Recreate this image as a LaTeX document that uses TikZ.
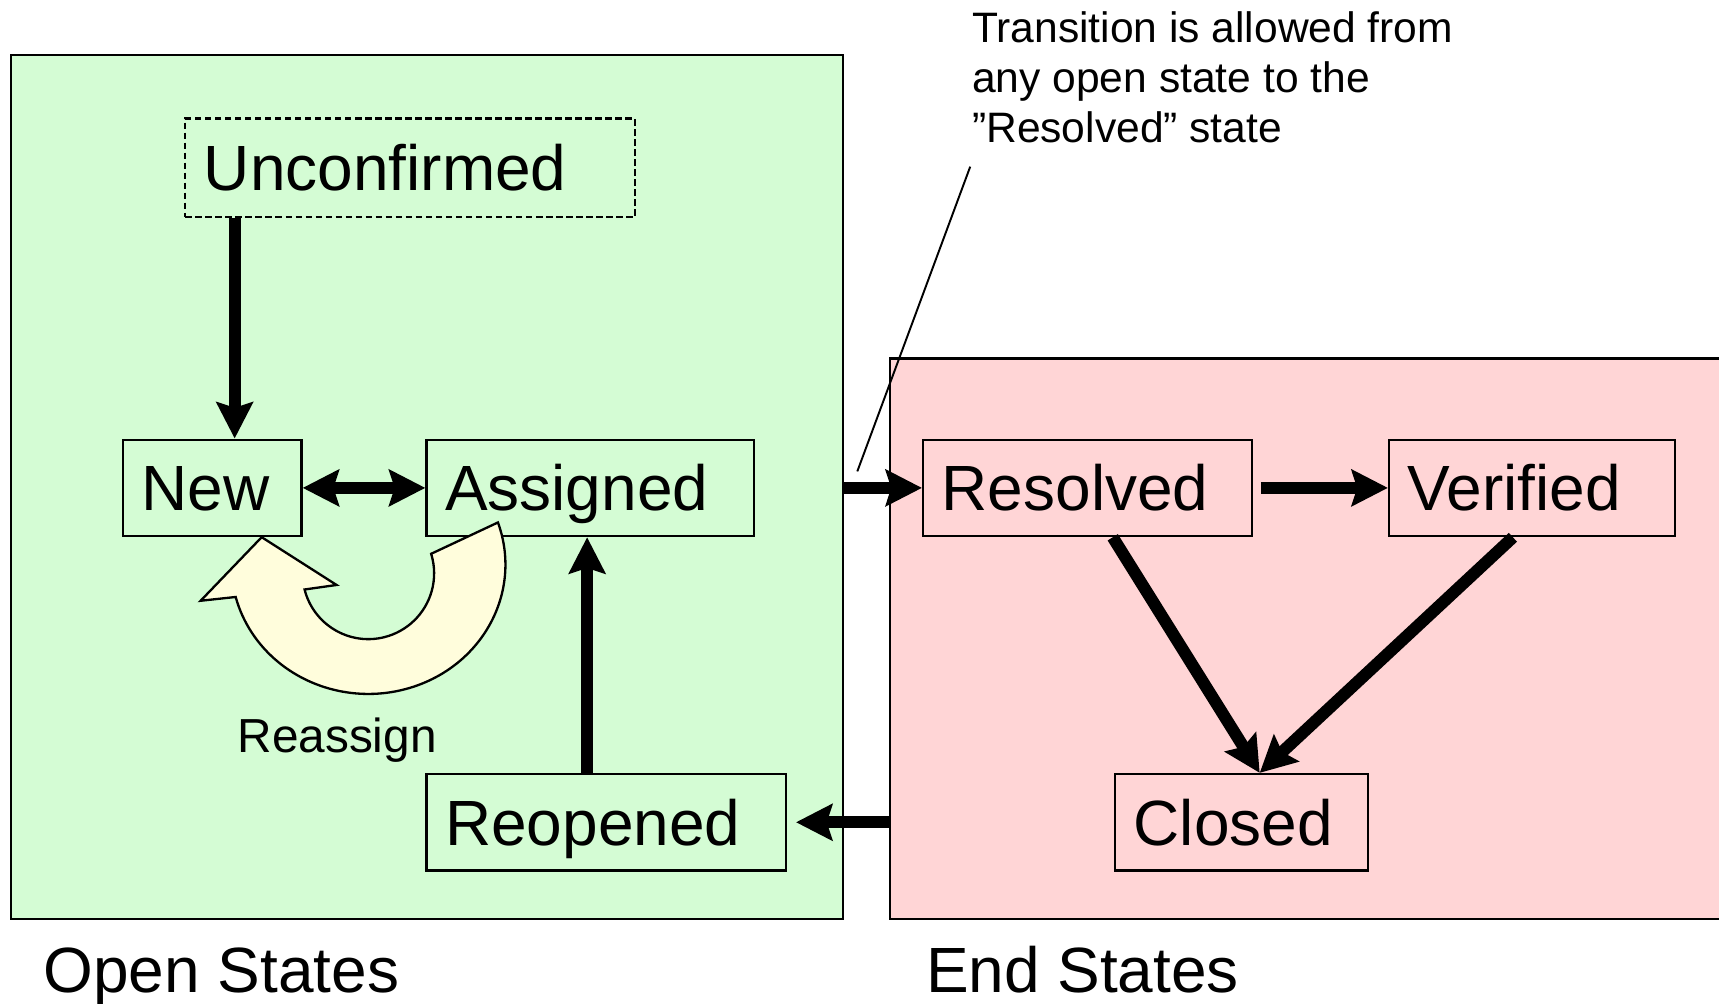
\documentclass[tikz,border=0pt]{standalone}
\usepackage{fontspec}
\setmainfont{Liberation Sans}
\usetikzlibrary{arrows.meta}
\definecolor{opengreen}{HTML}{D4FCD4}
\definecolor{endpink}{HTML}{FFD5D6}
\definecolor{reayellow}{HTML}{FFFDDC}
\begin{document}
\begin{tikzpicture}[x=0.1mm,y=-0.1mm,
  bigfont/.style={font=\fontsize{16.6}{19.9}\selectfont},
  area/.style={draw, line width=0.6pt, rectangle, anchor=north west, inner sep=0pt},
  statebox/.style={draw, line width=0.6pt, rectangle, anchor=north west,
    inner xsep=1.7mm, inner ysep=0pt, minimum height=8.8mm, align=left,
    text height=11.9pt, text depth=0pt, bigfont},
  arr/.style={line width=1.1mm, -{Stealth[length=3.3mm,width=3.3mm,inset=0.5mm]}},
  arrtwo/.style={line width=1.1mm, {Stealth[length=3.3mm,width=3.3mm,inset=0.5mm]}-{Stealth[length=3.3mm,width=3.3mm,inset=0.5mm]}},
]
\useasboundingbox (0,0) rectangle (1568,915);
\clip (0,0) rectangle (1568,915);

% areas
\node[area, fill=opengreen, minimum width=75.9mm, minimum height=78.8mm] (open) at (9,49) {};
\node[area, fill=endpink, minimum width=80mm, minimum height=51.1mm] (endst) at (811,326) {};

% states
\node[statebox, dashed, dash pattern=on 1.7pt off 0.9pt, minimum height=9.0mm, text width=37.6mm] (unc) at (168,107) {Unconfirmed};
\node[statebox, text width=12.9mm] (new) at (111,400) {New};
\node[statebox, text width=26.5mm] (asg) at (388,400) {Assigned};
\node[statebox, text width=29.4mm] (reo) at (388,705) {Reopened};
\node[statebox, text width=26.6mm] (res) at (841,400) {Resolved};
\node[statebox, text width=22.7mm] (ver) at (1266,400) {Verified};
\node[statebox, text width=19.7mm] (clo) at (1016,705) {Closed};

% reassign curved arrow
\coordinate (rO) at (336,515);
\coordinate (rC) at (336,523);
\draw[line width=0.6pt, fill=reayellow, line join=miter]
  ([shift={(19:12.5mm and 11.8mm)}]rO)
  arc[start angle=19, end angle=-165.5, x radius=12.5mm, y radius=11.8mm]
  -- (183,548) -- (238.7,490) -- (307,533.6)
  -- ([shift={(-165.8:6mm)}]rC)
  arc[start angle=-165.8, end angle=17.3, radius=6mm] -- cycle;
\node[anchor=base west, inner sep=0pt, font=\fontsize{12.4}{14.9}\selectfont] (reasg) at (216,686) {Reassign};

% connectors
\coordinate (a1) at ([xshift=2.05mm]new.north);
\draw[arr] (a1 |- unc.south) -- (a1);
\draw[arrtwo] (new.east) -- (asg.west);
\coordinate (a2) at ([xshift=-0.3mm]asg.south);
\draw[arr] (reo.north -| a2) -- (a2);
\draw[arr] (open.east |- res.west) -- (res.west);
\draw[arr] ([xshift=0.7mm]res.east) -- (ver.west);
\coordinate (ctop) at ([xshift=1.65mm]clo.north);
\draw[arr] ([xshift=17.4mm]res.south west) -- (ctop);
\draw[arr] ([xshift=11.4mm]ver.south west) -- (ctop);
\draw[arr] (endst.west |- reo.east) -- ([xshift=0.8mm]reo.east);

% annotation
\node[anchor=north west, inner sep=0pt, align=left, font=\fontsize{11.05}{13}\selectfont] (note) at (886,10)
  {Transition is allowed from\\any open state to the\\”Resolved” state};
\coordinate (noteA) at (885,152);
\coordinate (noteB) at (782,430);
\draw[line width=0.5pt] (noteA) -- (noteB);

% area labels
\node[anchor=base west, inner sep=0pt, bigfont] (openlbl) at (39,905) {Open States};
\node[anchor=base west, inner sep=0pt, bigfont] (endlbl) at (844,905) {End States};
\end{tikzpicture}
\end{document}
